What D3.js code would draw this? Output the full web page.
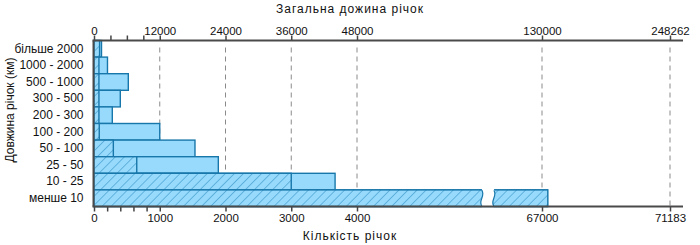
<!DOCTYPE html>
<html>
<head>
<meta charset="utf-8">
<script src="https://cdnjs.cloudflare.com/ajax/libs/d3/7.8.5/d3.min.js"></script>
<style>
	body{
	    margin:0;
	    background-color: white;
	}
	text{
	    font-family: "Liberation Sans", Arial, sans-serif;
	    fill: #111;
	}
</style>
</head>
<body>
<svg id="chart" width="700" height="245"></svg>
<script>
	// rivers by length class
	var categories = ["більше 2000", "1000 - 2000", "500 - 1000", "300 - 500", "200 - 300",
		"100 - 200", "50 - 100", "25 - 50", "10 - 25", "менше 10"];
	var riverCount = [85, 75, 75, 75, 75, 80, 294, 650, 3000, 67190];
	var riverLength = [1370, 2460, 6260, 4800, 3340, 12000, 18430, 22690, 44000, 135000];

	var countTicks = [0, 1000, 2000, 3000, 4000, 67000, 71183];
	var lengthTicks = [0, 12000, 24000, 36000, 48000, 130000, 248262];
	var countMinor = [200, 400, 600, 800];
	var lengthMinor = [3000, 6000, 9000];
	var countBreak = [46500, 50600];

	var WIDTH = 700;
	var TOP = 40.5, BOTTOM = 206.5;
	var FILL = "#97dafc", STROKE = "#1877aa", HATCH = "#2a8cc0";

	var svg = d3.select("#chart");

	var defs = svg.append("defs");
	defs.append("pattern")
		.attr("id", "hatch")
		.attr("patternUnits", "userSpaceOnUse")
		.attr("width", 6.4)
		.attr("height", 6.4)
		.attr("patternTransform", "rotate(45)")
		.call(function(p){
			p.append("rect").attr("width", 6.4).attr("height", 6.4).attr("fill", FILL);
			p.append("line").attr("x1", 0).attr("y1", 0).attr("x2", 0).attr("y2", 6.4)
				.attr("stroke", HATCH).attr("stroke-width", 1);
		});

	// piecewise scales (broken axis)
	var xCount = d3.scaleLinear()
		.domain([0, 4000, 67000, 71183])
		.range([94, 357, 542, 670]);
	var xLen = d3.scaleLinear()
		.domain([0, 48000, 130000, 248262])
		.range([94, 357, 542, 670]);
	var y = d3.scaleBand().domain(categories).range([TOP, BOTTOM]).padding(0);

	// grid lines
	svg.append("g").selectAll("line")
		.data(countTicks.slice(1))
		.enter().append("line")
		.attr("x1", function(d){ return xCount(d); })
		.attr("x2", function(d){ return xCount(d); })
		.attr("y1", TOP + 7)
		.attr("y2", BOTTOM)
		.attr("stroke", "#8a8a8a")
		.attr("stroke-width", 1)
		.attr("stroke-dasharray", "5,4");

	// length bars (plain)
	svg.append("g").selectAll("rect")
		.data(categories)
		.enter().append("rect")
		.attr("x", xLen(0))
		.attr("y", function(d){ return y(d); })
		.attr("width", function(d, i){ return xLen(riverLength[i]) - xLen(0); })
		.attr("height", y.bandwidth())
		.attr("fill", FILL)
		.attr("stroke", STROKE)
		.attr("stroke-width", 1.4);

	// count bars (hatched)
	svg.append("g").selectAll("rect")
		.data(categories)
		.enter().append("rect")
		.attr("x", xCount(0))
		.attr("y", function(d){ return y(d); })
		.attr("width", function(d, i){ return xCount(riverCount[i]) - xCount(0); })
		.attr("height", y.bandwidth())
		.attr("fill", "url(#hatch)")
		.attr("stroke", STROKE)
		.attr("stroke-width", 1.4);

	// break in the longest bar
	var last = categories[categories.length - 1];
	var by0 = y(last) - 1, by1 = y(last) + y.bandwidth() + 1;
	var bx0 = xCount(countBreak[0]), bx1 = xCount(countBreak[1]);
	function wave(x, ya, yb){
		var h = yb - ya;
		return "M" + x + "," + ya + " C" + (x + 4) + "," + (ya + h * 0.35) + " " + (x - 4) + "," + (ya + h * 0.65) + " " + x + "," + yb;
	}
	svg.append("path")
		.attr("d", wave(bx0, by0, by1) + " L" + bx1 + "," + by1 +
			" C" + (bx1 - 4) + "," + (by0 + (by1 - by0) * 0.65) + " " + (bx1 + 4) + "," + (by0 + (by1 - by0) * 0.35) + " " + bx1 + "," + by0 + " Z")
		.attr("fill", "white");
	[bx0, bx1].forEach(function(bx){
		svg.append("path")
			.attr("d", wave(bx, by0 + 1.5, by1 - 1.5))
			.attr("fill", "none")
			.attr("stroke", STROKE)
			.attr("stroke-width", 1.2);
	});

	// axes
	var fmt = d3.format("d");
	svg.append("g")
		.attr("transform", "translate(0," + TOP + ")")
		.call(d3.axisTop(xLen).tickValues(lengthTicks).tickFormat(fmt).tickSize(5).tickSizeOuter(0).tickPadding(1));
	svg.append("g")
		.attr("transform", "translate(0," + BOTTOM + ")")
		.call(d3.axisBottom(xCount).tickValues(countTicks).tickFormat(fmt).tickSize(5).tickSizeOuter(0).tickPadding(2));

	svg.append("g")
		.attr("transform", "translate(0," + TOP + ")")
		.call(d3.axisTop(xLen).tickValues(lengthMinor).tickFormat("").tickSize(5).tickSizeOuter(0));
	svg.append("g")
		.attr("transform", "translate(0," + BOTTOM + ")")
		.call(d3.axisBottom(xCount).tickValues(countMinor).tickFormat("").tickSize(5).tickSizeOuter(0));

	svg.selectAll(".domain").remove();
	svg.selectAll(".tick line").attr("stroke", "#444").attr("stroke-width", 1.5);
	svg.selectAll(".tick text").style("font-size", "11.5px").style("fill", "#111");

	[TOP, BOTTOM].forEach(function(yy){
		svg.append("line")
			.attr("x1", 92.5).attr("x2", 683)
			.attr("y1", yy).attr("y2", yy)
			.attr("stroke", "#4a4a4a").attr("stroke-width", 2);
	});

	var leftAxis = svg.append("g")
		.attr("transform", "translate(93.5,0)")
		.call(d3.axisLeft(y).tickSize(0).tickPadding(10));
	leftAxis.select(".domain").remove();
	leftAxis.selectAll("text").style("font-size", "12px").style("fill", "#111");
	svg.append("line")
		.attr("x1", 93.5).attr("x2", 93.5)
		.attr("y1", TOP).attr("y2", BOTTOM)
		.attr("stroke", "#4a4a4a").attr("stroke-width", 2);

	// titles
	svg.append("text")
		.attr("x", WIDTH / 2)
		.attr("y", 13)
		.attr("text-anchor", "middle")
		.style("font-size", "12px")
		.style("letter-spacing", "1px")
		.text("Загальна дожина річок");
	svg.append("text")
		.attr("x", WIDTH / 2)
		.attr("y", 240)
		.attr("text-anchor", "middle")
		.style("font-size", "12px")
		.style("letter-spacing", "1px")
		.text("Кількість річок");
	svg.append("text")
		.attr("transform", "translate(14,110) rotate(-90)")
		.attr("text-anchor", "middle")
		.style("font-size", "12px")
		.text("Довжина річок (км)");
</script>
</body>
</html>
